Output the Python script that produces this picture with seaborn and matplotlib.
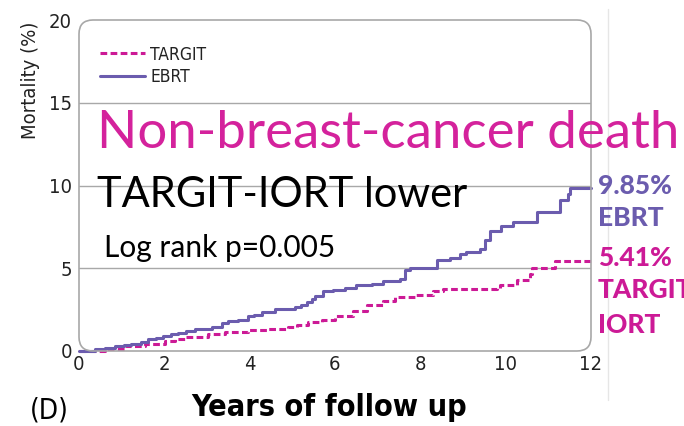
import matplotlib
matplotlib.use("Agg")
import matplotlib.pyplot as plt
import seaborn as sns
import pandas as pd
from matplotlib.patches import FancyBboxPatch
from matplotlib.transforms import IdentityTransform
from matplotlib.lines import Line2D

# ---- data ----
ebrt_years = [0, 0.37, 0.6, 0.84, 1.05, 1.23, 1.45, 1.62, 1.8, 1.98, 2.15, 2.33, 2.5, 2.72,
              3.11, 3.34, 3.5, 3.73, 3.97, 4.1, 4.28, 4.59, 5.06, 5.2, 5.34, 5.45, 5.53, 5.72,
              5.95, 6.23, 6.5, 6.86, 7.13, 7.52, 7.64, 7.76, 8.38, 8.7, 8.93, 9.08, 9.4, 9.51,
              9.63, 9.9, 10.18, 10.73, 11.27, 11.47, 11.5, 12.0]
ebrt_mort = [0, 0.15, 0.2, 0.3, 0.38, 0.45, 0.55, 0.7, 0.8, 0.9, 1.0, 1.08, 1.2, 1.35,
             1.45, 1.68, 1.8, 1.9, 2.1, 2.2, 2.35, 2.55, 2.65, 2.8, 2.95, 3.15, 3.35, 3.6,
             3.7, 3.82, 3.96, 4.06, 4.2, 4.37, 4.87, 5.0, 5.5, 5.63, 5.84, 5.98, 6.15, 6.69,
             7.26, 7.54, 7.8, 8.4, 9.1, 9.5, 9.85, 9.85]
targit_years = [0, 0.61, 1.08, 1.55, 2.02, 2.25, 2.48, 3.03, 3.42, 3.97, 4.44, 4.9, 5.1, 5.37,
                5.69, 6.0, 6.43, 6.74, 7.13, 7.41, 7.91, 8.3, 8.53, 9.79, 9.87, 10.26, 10.57,
                10.61, 11.16, 12.0]
targit_mort = [0, 0.15, 0.28, 0.45, 0.6, 0.72, 0.85, 1.0, 1.15, 1.25, 1.35, 1.48, 1.6, 1.75,
               1.9, 2.14, 2.44, 2.78, 3.05, 3.29, 3.41, 3.65, 3.75, 3.82, 4.0, 4.26, 4.67,
               5.0, 5.41, 5.41]
series_names = ["TARGIT", "EBRT"]
x_ticks = [0, 2, 4, 6, 8, 10, 12]
y_ticks = [0, 5, 10, 15, 20]
final_ebrt = "9.85%"
final_targit = "5.41%"

PURPLE = "#6b5cae"
MAGENTA = "#cc1a96"
GRID = "#a8a8a8"

df_e = pd.DataFrame({"years": ebrt_years, "mort": ebrt_mort})
df_t = pd.DataFrame({"years": targit_years, "mort": targit_mort})

sns.set_theme(style="white")
plt.rcParams["font.family"] = ["DejaVu Sans"]
plt.rcParams["font.stretch"] = "condensed"

W, H = 684, 426
fig = plt.figure(figsize=(W / 100, H / 100), dpi=100)
L, R, T, B = 79, 591, 20, 351
ax = fig.add_axes([L / W, 1 - B / H, (R - L) / W, (B - T) / H])

sns.lineplot(data=df_t, x="years", y="mort", ax=ax, drawstyle="steps-post",
             color=MAGENTA, lw=2.2, linestyle=(0, (2.2, 1.1)), zorder=3, clip_on=False)
sns.lineplot(data=df_e, x="years", y="mort", ax=ax, drawstyle="steps-post",
             color=PURPLE, lw=2.2, zorder=4, clip_on=False)

ax.set_xlim(0, 12)
ax.set_ylim(0, 20)
ax.set_xticks(x_ticks)
ax.set_yticks(y_ticks)
ax.set_xticklabels([str(v) for v in x_ticks])
ax.set_yticklabels([str(v) for v in y_ticks])
ax.tick_params(axis="x", direction="in", length=7, width=1, color=GRID,
               labelsize=14.5, labelcolor="#222222", pad=3)
ax.tick_params(axis="y", length=0, labelsize=14.5, labelcolor="#222222", pad=5)
for v in [5, 10, 15]:
    ax.axhline(v, color=GRID, lw=1, zorder=1)
for s in ax.spines.values():
    s.set_visible(False)
ax.set_xlabel("")
ax.set_ylabel("")
ax.patch.set_alpha(0)

box = FancyBboxPatch((L, H - B), R - L, B - T,
                     boxstyle="round,pad=0,rounding_size=14",
                     transform=IdentityTransform(), fill=False,
                     edgecolor=GRID, lw=1.2, zorder=0)
fig.patches.append(box)
fig.add_artist(Line2D([608 / W, 608 / W], [0.06, 0.98], color="#e6e6e6", lw=1))

handles = [Line2D([], [], color=MAGENTA, lw=2.2, linestyle=(0, (2.2, 1.1))),
           Line2D([], [], color=PURPLE, lw=2.2)]
ax.legend(handles, series_names, loc="upper left", bbox_to_anchor=(0.01, 0.97),
          frameon=False, fontsize=12.5, handlelength=2.6, handletextpad=0.3,
          labelspacing=0.25, labelcolor="#222222")

fig.text(97 / W, 1 - 148 / H, "Non-breast-cancer death", color="#d4229c",
         fontsize=38, family=["Lato", "DejaVu Sans"], va="baseline", ha="left")
fig.text(97 / W, 1 - 207 / H, "TARGIT-IORT lower", color="black",
         fontsize=30, family=["Lato", "DejaVu Sans"], va="baseline", ha="left")
fig.text(104 / W, 1 - 257 / H, "Log rank p=0.005", color="black",
         fontsize=21.5, family=["Lato", "DejaVu Sans"], va="baseline", ha="left")

rx = 598 / W
for txt, yc, col in [(final_ebrt, 186, PURPLE), ("EBRT", 218, PURPLE),
                     (final_targit, 258, MAGENTA), ("TARGIT-", 290, MAGENTA),
                     ("IORT", 325, MAGENTA)]:
    fig.text(rx, 1 - yc / H, txt, color=col, fontsize=19, fontweight="black",
             family=["Lato", "DejaVu Sans"], va="center", ha="left")

fig.text(30 / W, 1 - 80 / H, "Mortality (%)", rotation=90, fontsize=14.5,
         color="#222222", va="center", ha="center")
fig.text(30 / W, 1 - 410 / H, "(D)", fontsize=20, color="black",
         va="center", ha="left")
fig.text(329 / W, 1 - 408 / H, "Years of follow up", fontsize=22, fontweight="bold",
         color="black", va="center", ha="center")

fig.savefig("out.png", dpi=100)
